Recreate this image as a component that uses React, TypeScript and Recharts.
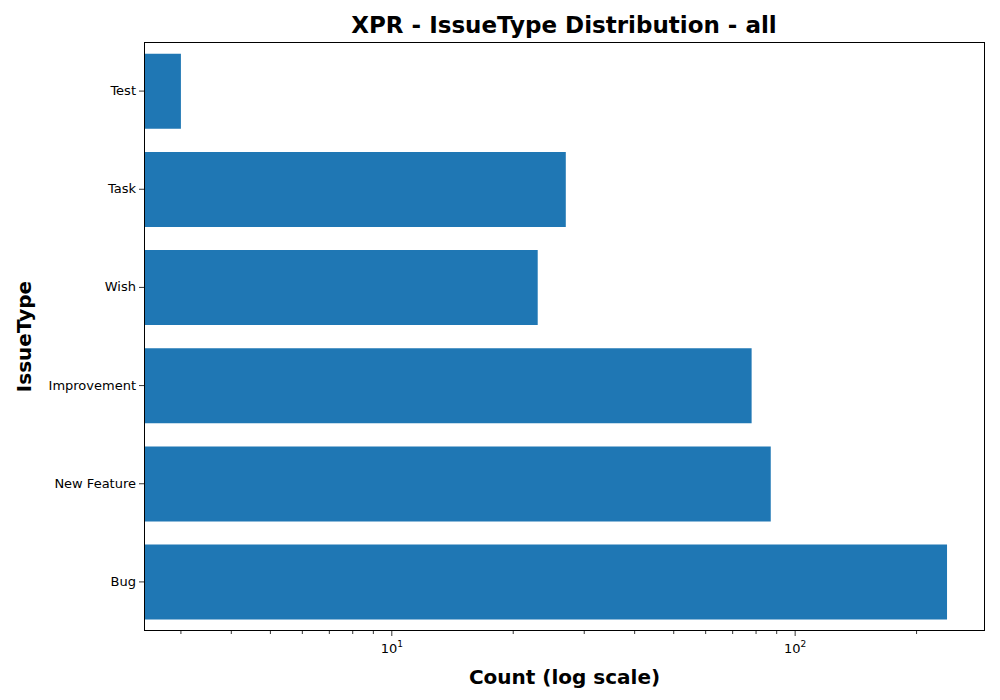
import React from 'react';
import { BarChart, Bar, XAxis, YAxis } from 'recharts';

const categories = ['Bug', 'New Feature', 'Improvement', 'Wish', 'Task', 'Test'];
const counts = [238, 87, 78, 23, 27, 3];
const xTicks = [3, 4, 5, 6, 7, 8, 9, 10, 20, 30, 40, 50, 60, 70, 80, 90, 100, 200];
const majorTicks = [10, 100];

const data = categories.map((c, i) => ({ name: c, count: counts[i] }));
const FONT = 'DejaVu Sans, sans-serif';

const XTick = (props: any) => {
  const { x, y, payload } = props;
  const major = majorTicks.includes(payload.value);
  const exp = Math.round(Math.log10(payload.value));
  return (
    <g>
      <line x1={x} x2={x} y1={y - 8} y2={y - 8 + (major ? 5 : 3)} stroke="#000" strokeWidth={0.8} />
      {major && (
        <text x={x} y={y + 14} textAnchor="middle" fontSize={13} fontFamily={FONT} fill="#000">
          10<tspan dy={-6} fontSize={9}>{exp}</tspan>
        </text>
      )}
    </g>
  );
};

const YTick = (props: any) => {
  const { x, y, payload } = props;
  return (
    <g>
      <line x1={x + 8} x2={x + 3} y1={y} y2={y} stroke="#000" strokeWidth={0.8} />
      <text x={x} y={y + 4} textAnchor="end" fontSize={13} fontFamily={FONT} fill="#000">{payload.value}</text>
    </g>
  );
};

export default function App() {
  return (
    <div style={{ position: 'absolute', left: 0, top: 0, width: 1000, height: 700, background: '#fff' }}>
      <div style={{ position: 'absolute', left: 0, top: 12, width: 1128, textAlign: 'center', fontFamily: FONT, fontWeight: 'bold', fontSize: 23 }}>
        XPR - IssueType Distribution - all
      </div>
      <BarChart width={1000} height={700} data={data} layout="vertical" barCategoryGap="12%"
        margin={{ top: 42, right: 15, bottom: 0, left: 0 }}>
        <XAxis type="number" dataKey="count" scale="log" domain={[2.43, 295.6]} allowDataOverflow
          ticks={xTicks} interval={0} tick={<XTick />} tickLine={false} axisLine={false}
          label={{ value: 'Count (log scale)', position: 'insideBottom', offset: 16, fontSize: 20, fontWeight: 'bold', fontFamily: FONT, fill: '#000' }} height={69} />
        <YAxis type="category" dataKey="name" reversed width={144} tick={<YTick />} tickLine={false} axisLine={false} interval={0}
          label={{ value: 'IssueType', angle: -90, position: 'insideLeft', offset: 24, fontSize: 20, fontWeight: 'bold', fontFamily: FONT, fill: '#000', style: { textAnchor: 'middle' } }} />
        <Bar dataKey="count" fill="#1f77b4" isAnimationActive={false} />
      </BarChart>
      <div style={{ position: 'absolute', left: 144, top: 42, width: 841, height: 589, border: '1px solid #000', boxSizing: 'border-box', pointerEvents: 'none' }} />
    </div>
  );
}
